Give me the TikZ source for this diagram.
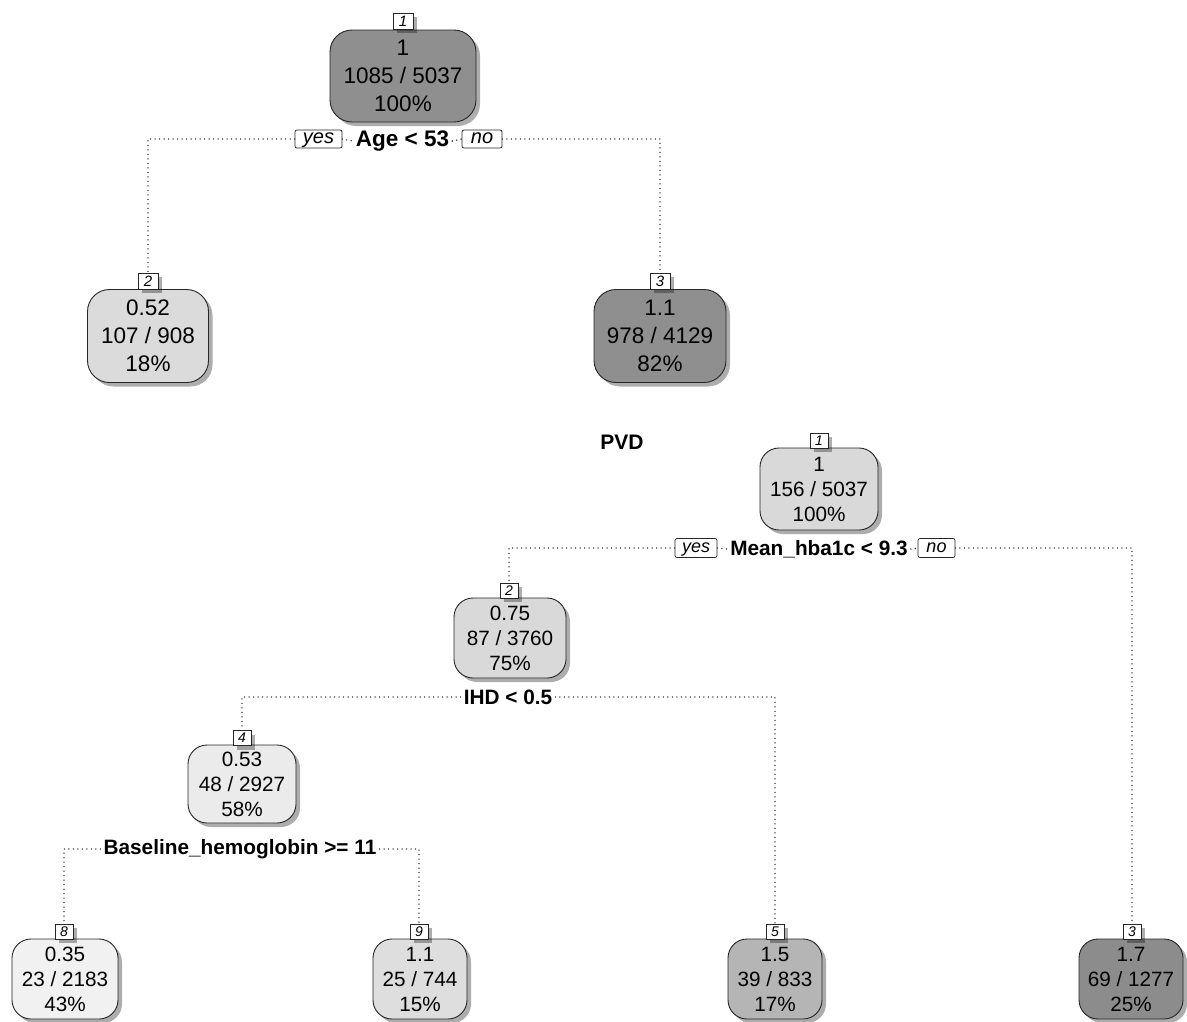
\documentclass[tikz,border=0pt]{standalone}
\usepackage{fontspec}
\setmainfont{Liberation Sans}
\usetikzlibrary{shadows}
\definecolor{gA}{gray}{0.56}
\definecolor{gB}{gray}{0.86}
\definecolor{gC}{gray}{0.85}
\definecolor{gD}{gray}{0.92}
\definecolor{gE}{gray}{0.945}
\definecolor{gF}{gray}{0.87}
\definecolor{gG}{gray}{0.71}
\definecolor{gH}{gray}{0.55}
\begin{document}
\begin{tikzpicture}[x=1pt,y=-1pt,
  shad/.style={drop shadow={shadow xshift=4pt,shadow yshift=-4pt,fill=black,opacity=0.32}},
  leaf/.style={draw=black!85, line width=0.9pt, align=center, inner sep=0pt, shad},
  bigtxt/.style={rounded corners=22pt, font=\fontsize{22.5}{28}\selectfont},
  smalltxt/.style={rounded corners=19pt, font=\fontsize{20.7}{25}\selectfont},
  tagtop/.style={draw=black!85, fill=white, line width=0.7pt, minimum width=20pt, minimum height=16pt, inner sep=0pt, font=\fontsize{15}{15}\selectfont\itshape, shad},
  tagbot/.style={draw=black!85, fill=white, line width=0.7pt, minimum width=18pt, minimum height=15pt, inner sep=0pt, font=\fontsize{14}{14}\selectfont\itshape, shad},
  yntop/.style={draw=black!85, fill=white, line width=0.7pt, rounded corners=2pt, minimum width=#1, minimum height=18pt, text height=11.5pt, text depth=2.5pt, inner sep=0pt, font=\fontsize{20}{20}\selectfont\itshape},
  ynbot/.style={draw=black!85, fill=white, line width=0.7pt, rounded corners=2pt, minimum width=#1, minimum height=19pt, text height=11pt, text depth=2pt, inner sep=0pt, font=\fontsize{18}{18}\selectfont\itshape},
  splittop/.style={font=\fontsize{22.5}{22.5}\selectfont\bfseries, inner xsep=3pt, inner ysep=0pt},
  splitbot/.style={font=\fontsize{20.8}{20.8}\selectfont\bfseries, inner xsep=3pt, inner ysep=0pt},
  conn/.style={draw=black!80, line width=1.6pt, dash pattern=on 0pt off 4.5pt, line cap=round}
]
\useasboundingbox (0,0) rectangle (1187,1021);

% ---------- top tree ----------
\node[leaf, bigtxt, fill=gA, minimum width=146pt, minimum height=92pt] (t1) at (403,76) {1\\1085 / 5037\\100\%};
\node[tagtop] (t1tag) at (403,21) {1};
\node[leaf, bigtxt, fill=gB, minimum width=121pt, minimum height=93pt] (t2) at (148,336) {0.52\\107 / 908\\18\%};
\node[tagtop] (t2tag) at (148,281) {2};
\node[leaf, bigtxt, fill=gA, minimum width=132pt, minimum height=93pt] (t3) at (660,336) {1.1\\978 / 4129\\82\%};
\node[tagtop] (t3tag) at (660,281) {3};

\node[splittop] (ts) at (402.5,141) {Age < 53};
\node[yntop=47pt] (tyes) at (318.5,139) {yes};
\node[yntop=40pt] (tno) at (482,139) {no};

\draw[conn] (tyes.west) -| (t2tag.north);
\draw[conn] (tyes.east) -- (ts.west);
\draw[conn] (ts.east) -- (tno.west);
\draw[conn] (tno.east) -| (t3tag.north);

% ---------- bottom tree ----------
\node[font=\fontsize{21}{21}\selectfont\bfseries] (title) at (622,442) {PVD};

\node[leaf, smalltxt, fill=gC, minimum width=118pt, minimum height=82pt] (b1) at (819,489) {1\\156 / 5037\\100\%};
\node[tagbot] (b1tag) at (819,440.5) {1};
\node[leaf, smalltxt, fill=gC, minimum width=112pt, minimum height=80pt] (b2) at (510,638) {0.75\\87 / 3760\\75\%};
\node[tagbot] (b2tag) at (509,590.5) {2};
\node[leaf, smalltxt, fill=gD, minimum width=108pt, minimum height=78pt] (b4) at (242,784) {0.53\\48 / 2927\\58\%};
\node[tagbot] (b4tag) at (242,738) {4};
\node[leaf, smalltxt, fill=gE, minimum width=106pt, minimum height=80pt] (b8) at (65,979) {0.35\\23 / 2183\\43\%};
\node[tagbot] (b8tag) at (64,931.5) {8};
\node[leaf, smalltxt, fill=gF, minimum width=94pt, minimum height=80pt] (b9) at (420,979) {1.1\\25 / 744\\15\%};
\node[tagbot] (b9tag) at (419,931.5) {9};
\node[leaf, smalltxt, fill=gG, minimum width=94pt, minimum height=80pt] (b5) at (775,979) {1.5\\39 / 833\\17\%};
\node[tagbot] (b5tag) at (775,931.5) {5};
\node[leaf, smalltxt, fill=gH, minimum width=104pt, minimum height=80pt] (b3) at (1131,979) {1.7\\69 / 1277\\25\%};
\node[tagbot] (b3tag) at (1132,931.5) {3};

\node[splitbot] (bs1) at (819,549) {Mean\_hba1c < 9.3};
\node[ynbot=42pt] (byes) at (696,548) {yes};
\node[ynbot=37pt] (bno) at (936.5,548) {no};
\node[splitbot] (bs2) at (508,697) {IHD < 0.5};
\node[splitbot] (bs4) at (240,849) {Baseline\_hemoglobin >= 11};

\draw[conn] (byes.west) -| (b2tag.north);
\draw[conn] (byes.east) -- (bs1.west);
\draw[conn] (bs1.east) -- (bno.west);
\draw[conn] (bno.east) -| (b3tag.north);
\draw[conn] (bs2.west) -| (b4tag.north);
\draw[conn] (bs2.east) -| (b5tag.north);
\draw[conn] (bs4.west) -| (b8tag.north);
\draw[conn] (bs4.east) -| (b9tag.north);
\end{tikzpicture}
\end{document}
